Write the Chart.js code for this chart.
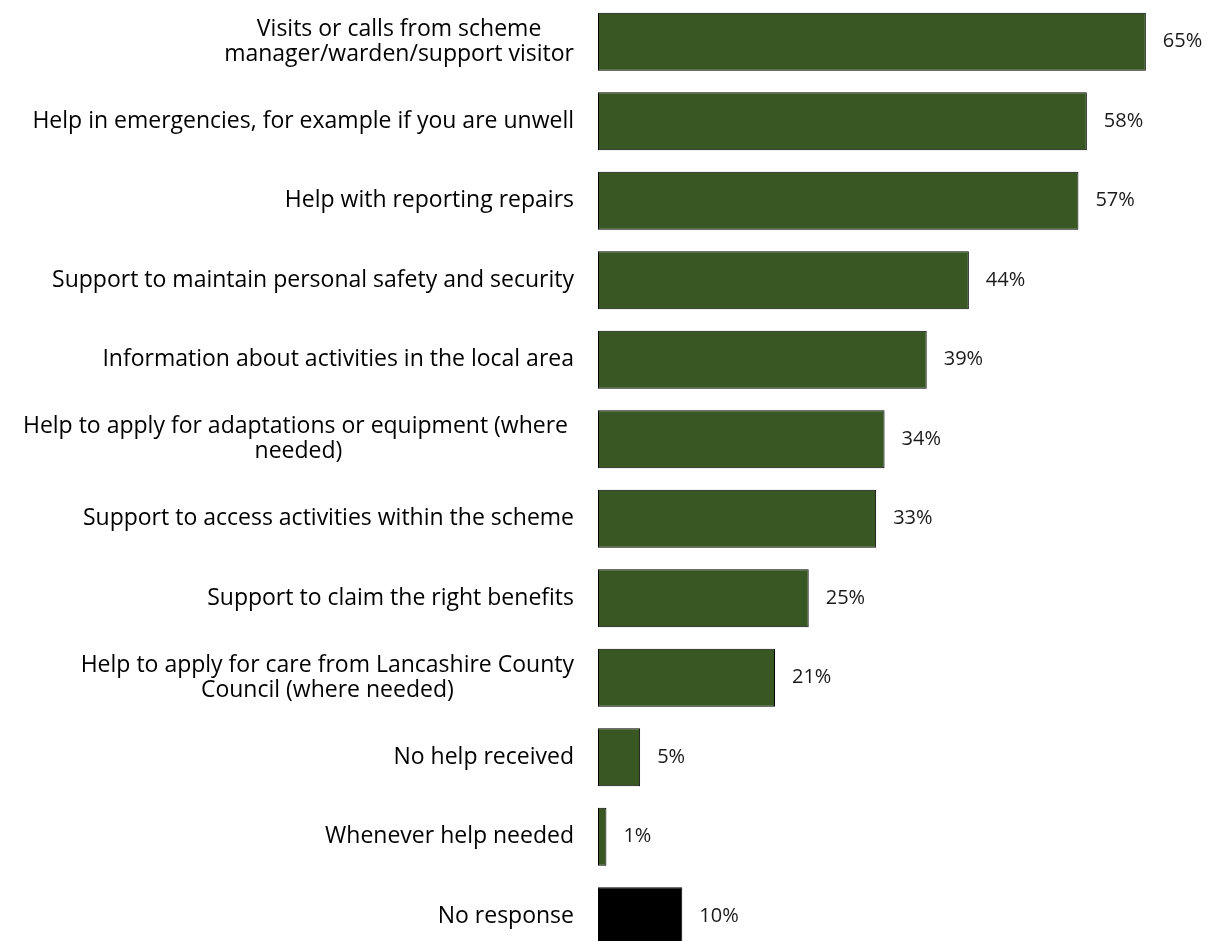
<!DOCTYPE html>
<html>
<head>
<meta charset="utf-8">
<script src="https://cdn.jsdelivr.net/npm/chart.js@4.4.1/dist/chart.umd.min.js"></script>
<style>
  html, body { margin: 0; padding: 0; background: #fff; overflow: hidden; }
</style>
</head>
<body>
<canvas id="barChart" width="1216" height="956"></canvas>
<script>
const categories = [
  ["Visits or calls from scheme", "manager/warden/support visitor"],
  "Help in emergencies, for example if you are unwell",
  "Help with reporting repairs",
  "Support to maintain personal safety and security",
  "Information about activities in the local area",
  ["Help to apply for adaptations or equipment (where ", "needed)"],
  "Support to access activities within the scheme",
  "Support to claim the right benefits",
  ["Help to apply for care from Lancashire County", "Council (where needed)"],
  "No help received",
  "Whenever help needed",
  "No response",
];
const percentages = [65, 58, 57, 44, 39, 34, 33, 25, 21, 5, 1, 10];
const barColors = [
  "#385723", "#385723", "#385723", "#385723", "#385723", "#385723",
  "#385723", "#385723", "#385723", "#385723", "#385723", "#000000",
];

const labelFont = "23px 'Open Sans'";
const valueFont = "20px 'Open Sans'";

// category labels: block right-aligned next to the bars, lines centred
const categoryLabels = {
  id: "categoryLabels",
  afterDraw(chart) {
    const ctx = chart.ctx;
    const yScale = chart.scales.y;
    const right = chart.chartArea.left - 24;
    ctx.save();
    ctx.font = labelFont;
    ctx.fillStyle = "#000";
    ctx.textAlign = "center";
    ctx.textBaseline = "middle";
    categories.forEach((cat, i) => {
      const lines = Array.isArray(cat) ? cat : [cat];
      const maxW = Math.max(...lines.map((l) => ctx.measureText(l).width));
      const cx = right - maxW / 2;
      const y = yScale.getPixelForValue(i);
      const lh = 25;
      lines.forEach((line, j) => {
        ctx.fillText(line, cx, y + (j - (lines.length - 1) / 2) * lh);
      });
    });
    ctx.restore();
  },
};

// value labels at the end of each bar
const valueLabels = {
  id: "valueLabels",
  afterDatasetsDraw(chart) {
    const ctx = chart.ctx;
    const meta = chart.getDatasetMeta(0);
    ctx.save();
    ctx.font = valueFont;
    ctx.fillStyle = "#1a1a1a";
    ctx.textAlign = "left";
    ctx.textBaseline = "middle";
    meta.data.forEach((bar, i) => {
      ctx.fillText(percentages[i] + "%", bar.x + 17, bar.y);
    });
    ctx.restore();
  },
};

new Chart(document.getElementById("barChart"), {
  type: "bar",
  data: {
    labels: categories,
    datasets: [
      {
        data: percentages,
        backgroundColor: barColors,
        borderColor: "#000000",
        borderWidth: 1,
        borderSkipped: false,
        categoryPercentage: 1,
        barPercentage: 0.73,
      },
    ],
  },
  options: {
    indexAxis: "y",
    responsive: false,
    animation: false,
    layout: { padding: { left: 598, right: 28, top: 2, bottom: 0 } },
    plugins: {
      legend: { display: false },
      tooltip: { enabled: false },
    },
    scales: {
      x: { display: false, min: 0, max: 70 },
      y: { display: false },
    },
  },
  plugins: [categoryLabels, valueLabels],
});
</script>
</body>
</html>
